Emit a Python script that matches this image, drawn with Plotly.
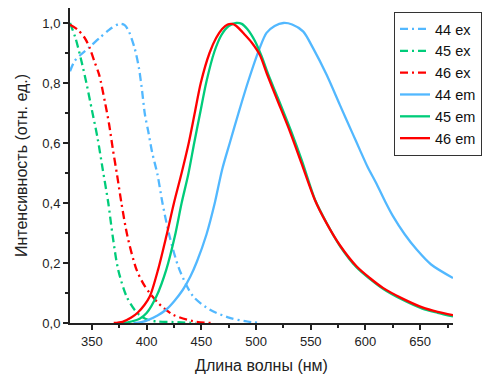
import plotly.graph_objects as go

# ---- data ----
ex44_x = [330, 334, 340, 347, 357, 366, 375, 380, 384, 389, 393, 396, 398.5, 401.5, 405, 410, 414.5, 421, 430, 442.5, 458, 476, 490, 503]
ex44_y = [0.839, 0.872, 0.895, 0.917, 0.95, 0.978, 0.997, 0.993, 0.97, 0.917, 0.85, 0.77, 0.694, 0.639, 0.57, 0.494, 0.4, 0.289, 0.178, 0.089, 0.044, 0.017, 0.006, 0.0]

ex45_x = [330, 335, 340, 345, 350, 355, 360, 365, 369, 374, 381.6, 389, 395, 402, 410, 425, 445]
ex45_y = [1.0, 0.95, 0.88, 0.80, 0.71, 0.62, 0.51, 0.40, 0.29, 0.178, 0.089, 0.044, 0.022, 0.01, 0.005, 0.003, 0.0]

ex46_x = [330, 337, 343.5, 348, 352, 356.6, 361.8, 365.8, 369, 373, 377, 382.5, 390.8, 398.5, 410.5, 424, 442.5, 460]
ex46_y = [0.994, 0.978, 0.95, 0.917, 0.875, 0.828, 0.739, 0.661, 0.583, 0.494, 0.4, 0.289, 0.178, 0.122, 0.067, 0.028, 0.006, 0.0]

em44_x = [388, 395, 400, 410, 418, 425, 433, 440, 446, 454.7, 462.3, 469, 476, 484, 492.8, 503.4, 509.6, 517, 525, 533, 543, 552, 564.4, 576.5, 588.7, 594.8, 602, 610, 618, 625, 636, 647, 660, 680]
em44_y = [0.0, 0.003, 0.008, 0.025, 0.045, 0.072, 0.11, 0.155, 0.205, 0.295, 0.4, 0.511, 0.6, 0.7, 0.805, 0.917, 0.967, 0.99, 1.0, 0.995, 0.972, 0.917, 0.828, 0.728, 0.628, 0.578, 0.52, 0.465, 0.405, 0.357, 0.295, 0.244, 0.195, 0.15]

em45_x = [378, 386, 394, 400, 409, 418, 425.8, 432, 438, 443.5, 448.6, 454.7, 462, 468.4, 475, 482, 487, 492, 499, 505, 511, 520, 532, 542, 554, 565, 577, 592, 604, 616, 633, 652, 666, 680]
em45_y = [0.0, 0.005, 0.015, 0.033, 0.089, 0.178, 0.289, 0.4, 0.494, 0.6, 0.694, 0.805, 0.905, 0.96, 0.99, 1.0, 0.997, 0.98, 0.94, 0.89, 0.83, 0.75, 0.64, 0.54, 0.41, 0.33, 0.255, 0.185, 0.147, 0.114, 0.079, 0.048, 0.034, 0.022]

em46_x = [370, 378, 386, 392, 398, 403, 410.5, 418, 425, 432, 438.5, 444, 449.5, 457.5, 463.5, 469, 474, 478, 482, 490, 496, 503.4, 510, 518.7, 530.9, 541.5, 553.7, 564.4, 576.5, 591.8, 604, 616, 633, 652, 666, 680]
em46_y = [0.0, 0.004, 0.018, 0.035, 0.06, 0.089, 0.178, 0.289, 0.4, 0.5, 0.6, 0.7, 0.8, 0.9, 0.95, 0.98, 0.995, 0.997, 0.99, 0.96, 0.935, 0.894, 0.83, 0.75, 0.639, 0.533, 0.411, 0.333, 0.26, 0.189, 0.15, 0.117, 0.083, 0.052, 0.037, 0.026]

series_names = ["44 ex", "45 ex", "46 ex", "44 em", "45 em", "46 em"]

x_tickvals = [350, 400, 450, 500, 550, 600, 650]
x_ticktext = ["350", "400", "450", "500", "550", "600", "650"]
y_tickvals = [0.0, 0.2, 0.4, 0.6, 0.8, 1.0]
y_ticktext = ["0,0", "0,2", "0,4", "0,6", "0,8", "1,0"]

x_title = "Длина волны (нм)"
y_title = "Интенсивность (отн. ед.)"

# ---- styles ----
BLUE = "#52B8FF"
GREEN = "#00CC7A"
RED = "#FF0000"
DASHDOT = "8px,4px,2px,4px"
LW = 2.3

fig = go.Figure()
specs = [
    (ex44_x, ex44_y, BLUE, DASHDOT),
    (ex45_x, ex45_y, GREEN, DASHDOT),
    (ex46_x, ex46_y, RED, DASHDOT),
    (em44_x, em44_y, BLUE, "solid"),
    (em45_x, em45_y, GREEN, "solid"),
    (em46_x, em46_y, RED, "solid"),
]
for (xs, ys, col, dash), name in zip(specs, series_names):
    fig.add_trace(go.Scatter(
        x=xs, y=ys, mode="lines", name=name,
        line=dict(color=col, width=LW, dash=dash, shape="spline", smoothing=0.8),
    ))

FONT = "Liberation Sans, Arial, sans-serif"
fig.update_layout(
    width=484, height=374,
    margin=dict(l=70, r=31, t=8, b=51, autoexpand=False),
    paper_bgcolor="white", plot_bgcolor="white",
    font=dict(family=FONT, size=13, color="#222"),
    showlegend=True,
    legend=dict(
        xref="container", yref="container",
        x=394 / 484, y=1 - 12 / 374, xanchor="left", yanchor="top",
        bgcolor="white", bordercolor="#333", borderwidth=1,
        font=dict(family=FONT, size=14.5, color="#111"),
        tracegroupgap=0, itemwidth=30,
    ),
    xaxis=dict(
        range=[330, 680], showgrid=False, zeroline=False, automargin=False,
        showline=True, linecolor="#222", linewidth=2,
        ticks="outside", ticklen=5, tickwidth=1.5, tickcolor="#222",
        tickmode="array", tickvals=x_tickvals, ticktext=x_ticktext,
        tickfont=dict(size=13),
        minor=dict(tickmode="linear", tick0=325, dtick=25, ticks="outside", ticklen=3, tickwidth=1.5, tickcolor="#222"),
        title=dict(text=x_title, font=dict(size=16), standoff=12),
    ),
    yaxis=dict(
        range=[0, 1.05], showgrid=False, zeroline=False, automargin=False,
        showline=True, linecolor="#222", linewidth=2,
        ticks="outside", ticklen=5, tickwidth=1.5, tickcolor="#222",
        tickmode="array", tickvals=y_tickvals, ticktext=y_ticktext,
        tickfont=dict(size=13),
        minor=dict(tickmode="linear", tick0=0.1, dtick=0.2, ticks="outside", ticklen=3, tickwidth=1.5, tickcolor="#222"),
        title=dict(text=y_title, font=dict(size=16), standoff=11),
    ),
)

fig.write_html(
    "out.html",
    config={"displayModeBar": False},
    post_script="document.body.style.margin='0';document.body.style.overflow='hidden';",
)
